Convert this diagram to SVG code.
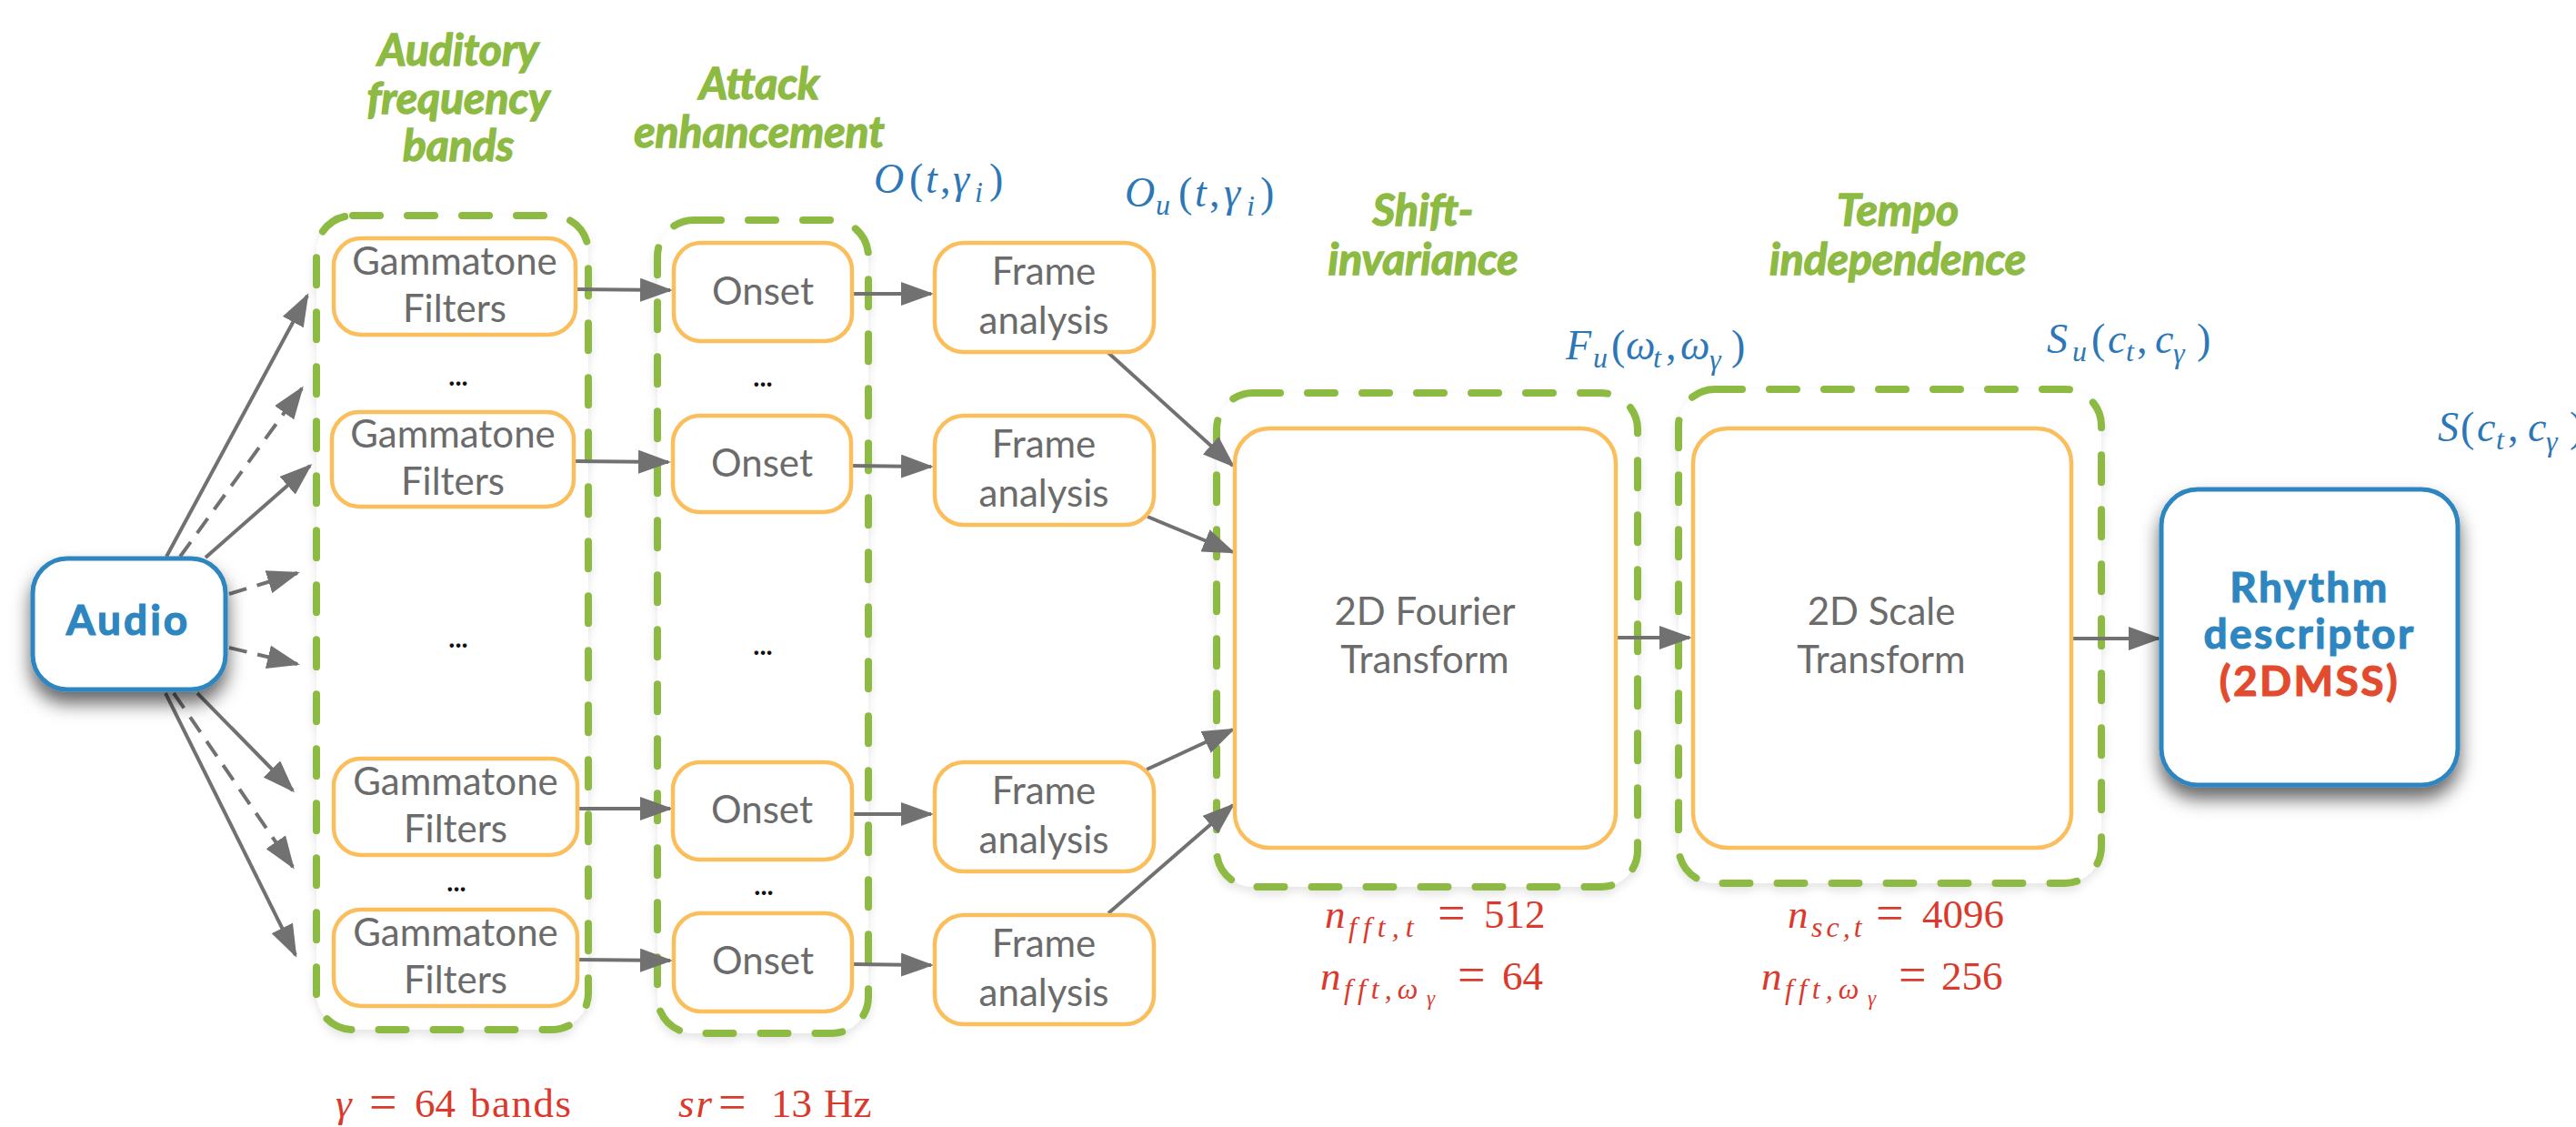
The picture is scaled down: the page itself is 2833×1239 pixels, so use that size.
<svg xmlns="http://www.w3.org/2000/svg" width="2833" height="1239" viewBox="0 0 2833 1239">
  <defs>
    <filter id="lift" x="-20%" y="-20%" width="140%" height="160%">
      <feDropShadow dx="0" dy="13" stdDeviation="10" flood-color="#000" flood-opacity="0.6"/>
    </filter>
    <filter id="faint" x="-10%" y="-10%" width="120%" height="120%">
      <feDropShadow dx="0" dy="5" stdDeviation="5" flood-color="#000" flood-opacity="0.10"/>
    </filter>
    <marker id="ah" markerUnits="userSpaceOnUse" viewBox="0 0 36 26" markerWidth="36" markerHeight="26" refX="33" refY="13" orient="auto">
      <path d="M0,0 L36,13 L0,26 z" fill="#717171"/>
    </marker>
  </defs>
  <style>
    .grp { fill: #fff; stroke: #8DBA42; stroke-width: 8; stroke-dasharray: 30 30; stroke-linecap: round; }
    .box { fill: #fff; stroke: #FBBE5C; stroke-width: 4.5; }
    .key { fill: #fff; stroke: #2E86C1; stroke-width: 5; }
    .lbl { font-family: Lato, "Open Sans", sans-serif; font-size: 42px; fill: #6B6B6B; text-anchor: middle; }
    .head { font-family: Lato, "Open Sans", sans-serif; font-weight: bold; font-style: italic; font-size: 48px; fill: #8DBA42; stroke: #8DBA42; stroke-width: 1.4px; text-anchor: middle; }
    .keytxt { font-family: Lato, "Open Sans", sans-serif; font-weight: bold; font-size: 46px; fill: #2E86C1; stroke: #2E86C1; stroke-width: 1.2px; text-anchor: middle; letter-spacing: 2.5px; }
    .red { fill: #E24B2E; stroke: #E24B2E; }
    .dots { font-family: Lato, "Open Sans", sans-serif; font-weight: bold; font-size: 30px; fill: #111; text-anchor: middle; }
    .mb { font-family: "Liberation Serif", serif; font-size: 46px; fill: #2D77B6; }
    .mr { font-family: "Liberation Serif", serif; font-size: 45px; fill: #D93A2D; }
    .i { font-style: italic; }
    .s { font-size: 32px; }
    .ss { font-size: 23px; }
    .eq { font-size: 54px; }
    .wire { stroke: #717171; stroke-width: 4; fill: none; marker-end: url(#ah); }
    .dash { stroke-dasharray: 20 12; }
  </style>

  <!-- stage headings -->
  <g id="headings">
    <text class="head" x="504" y="72">Auditory</text>
    <text class="head" x="504" y="125">frequency</text>
    <text class="head" x="504" y="177">bands</text>
    <text class="head" x="835" y="109">Attack</text>
    <text class="head" x="835" y="162">enhancement</text>
    <text class="head" x="1565" y="248">Shift-</text>
    <text class="head" x="1565" y="302">invariance</text>
    <text class="head" x="2087" y="248">Tempo</text>
    <text class="head" x="2087" y="302">independence</text>
  </g>

  <!-- dashed stage groups -->
  <g id="group-bands"><rect class="grp" filter="url(#faint)" x="348" y="237" width="299" height="895" rx="40"/></g>
  <g id="group-attack"><rect class="grp" filter="url(#faint)" x="723" y="242" width="232" height="894" rx="40"/></g>
  <g id="group-shift"><rect class="grp" filter="url(#faint)" x="1338" y="432" width="463" height="543" rx="40"/></g>
  <g id="group-tempo"><rect class="grp" filter="url(#faint)" x="1846" y="428" width="465" height="543" rx="40"/></g>

  <!-- connectors -->
  <g id="connectors">
    <line class="wire" x1="183" y1="612" x2="338" y2="325"/>
    <line class="wire dash" x1="198" y1="612" x2="332" y2="427"/>
    <line class="wire" x1="226" y1="613" x2="341" y2="512"/>
    <line class="wire dash" x1="252" y1="653" x2="327" y2="630"/>
    <line class="wire dash" x1="252" y1="712" x2="327" y2="730"/>
    <line class="wire" x1="217" y1="762" x2="322" y2="869"/>
    <line class="wire dash" x1="191" y1="762" x2="322" y2="953"/>
    <line class="wire" x1="182" y1="762" x2="325" y2="1050"/>

    <line class="wire" x1="632" y1="318" x2="737" y2="319"/>
    <line class="wire" x1="631" y1="507" x2="735" y2="508"/>
    <line class="wire" x1="635" y1="889" x2="737" y2="889"/>
    <line class="wire" x1="635" y1="1055" x2="737" y2="1056"/>

    <line class="wire" x1="937" y1="323" x2="1024" y2="323"/>
    <line class="wire" x1="936" y1="512" x2="1024" y2="513"/>
    <line class="wire" x1="937" y1="895" x2="1024" y2="895"/>
    <line class="wire" x1="937" y1="1060" x2="1024" y2="1061"/>

    <line class="wire" x1="1218" y1="387" x2="1356" y2="512"/>
    <line class="wire" x1="1262" y1="568" x2="1356" y2="607"/>
    <line class="wire" x1="1261" y1="846" x2="1356" y2="802"/>
    <line class="wire" x1="1219" y1="1004" x2="1356" y2="885"/>

    <line class="wire" x1="1777" y1="701" x2="1858" y2="701"/>
    <line class="wire" x1="2278" y1="702" x2="2374" y2="702"/>
  </g>

  <!-- input -->
  <g id="audio">
    <rect class="key" filter="url(#lift)" x="36" y="614" width="212" height="144" rx="38"/>
    <text class="keytxt" x="141" y="698" style="letter-spacing:3px">Audio</text>
  </g>

  <!-- gammatone filter bank -->
  <g id="gammatone-1">
    <rect class="box" x="367" y="262" width="266" height="106" rx="30"/>
    <text class="lbl" x="500" y="302">Gammatone</text>
    <text class="lbl" x="500" y="354">Filters</text>
  </g>
  <g id="gammatone-2">
    <rect class="box" x="365" y="453" width="266" height="104" rx="30"/>
    <text class="lbl" x="498" y="492">Gammatone</text>
    <text class="lbl" x="498" y="544">Filters</text>
  </g>
  <g id="gammatone-3">
    <rect class="box" x="367" y="834" width="268" height="106" rx="30"/>
    <text class="lbl" x="501" y="874">Gammatone</text>
    <text class="lbl" x="501" y="926">Filters</text>
  </g>
  <g id="gammatone-4">
    <rect class="box" x="367" y="1000" width="268" height="106" rx="30"/>
    <text class="lbl" x="501" y="1040">Gammatone</text>
    <text class="lbl" x="501" y="1092">Filters</text>
  </g>

  <!-- onset detectors -->
  <g id="onset-1">
    <rect class="box" x="741" y="267" width="196" height="108" rx="30"/>
    <text class="lbl" x="839" y="335">Onset</text>
  </g>
  <g id="onset-2">
    <rect class="box" x="740" y="457" width="196" height="106" rx="30"/>
    <text class="lbl" x="838" y="524">Onset</text>
  </g>
  <g id="onset-3">
    <rect class="box" x="740" y="838" width="197" height="107" rx="30"/>
    <text class="lbl" x="838" y="905">Onset</text>
  </g>
  <g id="onset-4">
    <rect class="box" x="741" y="1004" width="196" height="108" rx="30"/>
    <text class="lbl" x="839" y="1071">Onset</text>
  </g>

  <!-- frame analysis -->
  <g id="frame-1">
    <rect class="box" x="1028" y="267" width="241" height="120" rx="32"/>
    <text class="lbl" x="1148" y="313">Frame</text>
    <text class="lbl" x="1148" y="367">analysis</text>
  </g>
  <g id="frame-2">
    <rect class="box" x="1028" y="457" width="241" height="120" rx="32"/>
    <text class="lbl" x="1148" y="503">Frame</text>
    <text class="lbl" x="1148" y="557">analysis</text>
  </g>
  <g id="frame-3">
    <rect class="box" x="1028" y="838" width="241" height="120" rx="32"/>
    <text class="lbl" x="1148" y="884">Frame</text>
    <text class="lbl" x="1148" y="938">analysis</text>
  </g>
  <g id="frame-4">
    <rect class="box" x="1028" y="1006" width="241" height="120" rx="32"/>
    <text class="lbl" x="1148" y="1052">Frame</text>
    <text class="lbl" x="1148" y="1106">analysis</text>
  </g>

  <!-- ellipses between bands -->
  <g id="ellipses">
    <text class="dots" x="504" y="424">...</text>
    <text class="dots" x="504" y="712">...</text>
    <text class="dots" x="502" y="980">...</text>
    <text class="dots" x="839" y="425">...</text>
    <text class="dots" x="839" y="720">...</text>
    <text class="dots" x="840" y="984">...</text>
  </g>

  <!-- 2D transforms -->
  <g id="fourier">
    <rect class="box" x="1358" y="471" width="419" height="461" rx="38"/>
    <text class="lbl" x="1567" y="687">2D Fourier</text>
    <text class="lbl" x="1567" y="740">Transform</text>
  </g>
  <g id="scale">
    <rect class="box" x="1862" y="471" width="416" height="461" rx="38"/>
    <text class="lbl" x="2069" y="687">2D Scale</text>
    <text class="lbl" x="2069" y="740">Transform</text>
  </g>

  <!-- output -->
  <g id="rhythm">
    <rect class="key" filter="url(#lift)" x="2377" y="538" width="326" height="325" rx="40"/>
    <text class="keytxt" x="2540" y="662">Rhythm</text>
    <text class="keytxt" x="2540" y="713">descriptor</text>
    <text class="keytxt red" x="2540" y="765">(2DMSS)</text>
  </g>

  <!-- signal names -->
  <g id="signals">
    <text class="mb"><tspan class="i" x="961" y="212">O</tspan><tspan x="1000" y="212">(</tspan><tspan class="i" x="1018" y="212">t</tspan><tspan x="1034" y="212">,</tspan><tspan class="i" x="1048" y="212">γ</tspan><tspan class="i s" x="1072" y="222">i</tspan><tspan x="1088" y="212">)</tspan></text>
    <text class="mb"><tspan class="i" x="1237" y="227">O</tspan><tspan class="i s" x="1271" y="236">u</tspan><tspan x="1296" y="227">(</tspan><tspan class="i" x="1314" y="227">t</tspan><tspan x="1330" y="227">,</tspan><tspan class="i" x="1346" y="227">γ</tspan><tspan class="i s" x="1371" y="237">i</tspan><tspan x="1386" y="227">)</tspan></text>
    <text class="mb"><tspan class="i" x="1722" y="395">F</tspan><tspan class="i s" x="1752" y="404">u</tspan><tspan x="1772" y="395">(</tspan><tspan class="i" x="1788" y="395">ω</tspan><tspan class="i s" x="1818" y="404">t</tspan><tspan x="1832" y="395">,</tspan><tspan class="i" x="1848" y="395">ω</tspan><tspan class="i s" x="1880" y="406">γ</tspan><tspan x="1904" y="395">)</tspan></text>
    <text class="mb"><tspan class="i" x="2251" y="388">S</tspan><tspan class="i s" x="2279" y="397">u</tspan><tspan x="2300" y="388">(</tspan><tspan class="i" x="2318" y="388">c</tspan><tspan class="i s" x="2338" y="397">t</tspan><tspan x="2350" y="388">,</tspan><tspan class="i" x="2370" y="388">c</tspan><tspan class="i s" x="2390" y="399">γ</tspan><tspan x="2416" y="388">)</tspan></text>
    <text class="mb"><tspan class="i" x="2681" y="485">S</tspan><tspan x="2706" y="485">(</tspan><tspan class="i" x="2724" y="485">c</tspan><tspan class="i s" x="2745" y="494">t</tspan><tspan x="2758" y="485">,</tspan><tspan class="i" x="2780" y="485">c</tspan><tspan class="i s" x="2800" y="496">γ</tspan><tspan x="2826" y="485">)</tspan></text>
  </g>

  <!-- parameters -->
  <g id="parameters">
    <text class="mr"><tspan class="i" x="1457" y="1020">n</tspan><tspan class="i s" x="1483" y="1030" style="letter-spacing:7px">fft,t</tspan><tspan class="eq" x="1581" y="1022">=</tspan><tspan x="1632" y="1020">512</tspan></text>
    <text class="mr"><tspan class="i" x="1452" y="1088">n</tspan><tspan class="i s" x="1478" y="1098" style="letter-spacing:6px">fft,ω</tspan><tspan class="i ss" x="1569" y="1105">γ</tspan><tspan class="eq" x="1603" y="1090">=</tspan><tspan x="1652" y="1088">64</tspan></text>
    <text class="mr"><tspan class="i" x="1966" y="1020">n</tspan><tspan class="i s" x="1992" y="1030" style="letter-spacing:4px">sc,t</tspan><tspan class="eq" x="2063" y="1022">=</tspan><tspan x="2114" y="1020">4096</tspan></text>
    <text class="mr"><tspan class="i" x="1937" y="1088">n</tspan><tspan class="i s" x="1963" y="1098" style="letter-spacing:6px">fft,ω</tspan><tspan class="i ss" x="2054" y="1105">γ</tspan><tspan class="eq" x="2088" y="1090">=</tspan><tspan x="2135" y="1088">256</tspan></text>
    <text class="mr"><tspan class="i" x="369" y="1228">γ</tspan><tspan class="eq" x="406" y="1230">=</tspan><tspan x="456" y="1228">64</tspan><tspan x="517" y="1228" style="letter-spacing:1.5px">bands</tspan></text>
    <text class="mr"><tspan class="i" x="746" y="1228" style="letter-spacing:2px">sr</tspan><tspan class="eq" x="790" y="1230">=</tspan><tspan x="848" y="1228">13</tspan><tspan x="906" y="1228">Hz</tspan></text>
  </g>
</svg>
